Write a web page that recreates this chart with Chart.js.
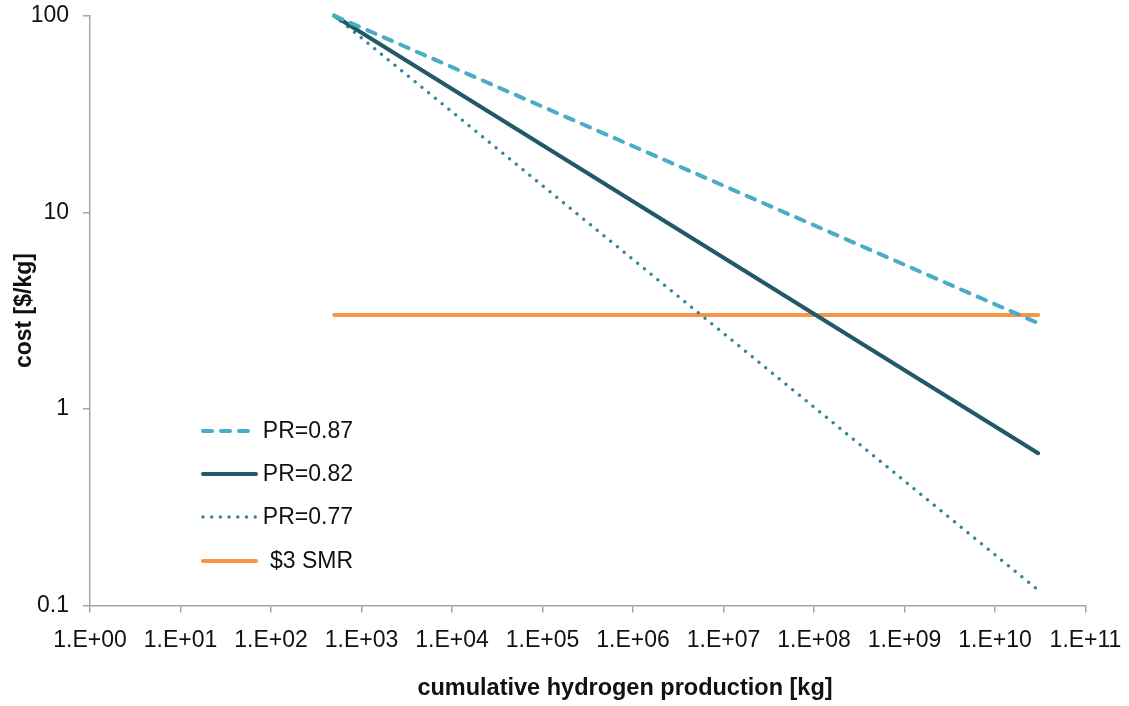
<!DOCTYPE html>
<html>
<head>
<meta charset="utf-8">
<script src="https://cdn.jsdelivr.net/npm/chart.js@4.4.1/dist/chart.umd.min.js"></script>
<style>
  html, body { margin: 0; padding: 0; background: #ffffff; }
  #wrap { width: 1129px; height: 706px; }
</style>
</head>
<body>
<div id="wrap"><canvas id="c" width="1129" height="706"></canvas></div>
<script>
// ---- data ----
const productionKg = [500, 3e10];          // cumulative hydrogen production [kg]
const costPR087 = [100, 2.73];             // PR=0.87
const costPR082 = [100, 0.595];            // PR=0.82
const costPR077 = [100, 0.12];             // PR=0.77
const costSMR   = [3, 3];                  // $3 SMR

const seriesLabels = ['PR=0.87', 'PR=0.82', 'PR=0.77', '$3 SMR'];

const xTickValues = [1, 1e1, 1e2, 1e3, 1e4, 1e5, 1e6, 1e7, 1e8, 1e9, 1e10, 1e11];
const xTickLabels = ['1.E+00', '1.E+01', '1.E+02', '1.E+03', '1.E+04', '1.E+05',
                     '1.E+06', '1.E+07', '1.E+08', '1.E+09', '1.E+10', '1.E+11'];
const yTickValues = [0.1, 1, 10, 100];
const yTickLabels = ['0.1', '1', '10', '100'];

const xTitle = 'cumulative hydrogen production [kg]';
const yTitle = 'cost [$/kg]';

function pts(ys) { return productionKg.map((x, i) => ({ x: x, y: ys[i] })); }

const FONT = "'Liberation Sans', Arial, sans-serif";
const AXIS_GRAY = '#a6a6a6';
const TEXT = '#111111';

// legend inside the plot area + x-axis title (offset like the reference)
const decorPlugin = {
  id: 'decor',
  afterDraw(chart) {
    const ctx = chart.ctx;
    const sx0 = 203, sx1 = 256, textRight = 353;
    const ys = [431, 474, 517, 561];
    ctx.save();
    chart.data.datasets.forEach((ds, i) => {
      const y = ys[i];
      ctx.beginPath();
      ctx.setLineDash(ds.borderDash || []);
      ctx.lineCap = ds.borderCapStyle || 'butt';
      ctx.lineWidth = ds.borderWidth;
      ctx.strokeStyle = ds.borderColor;
      ctx.moveTo(sx0, y);
      ctx.lineTo(sx1, y);
      ctx.stroke();
      ctx.setLineDash([]);
      ctx.fillStyle = TEXT;
      ctx.font = '23px ' + FONT;
      ctx.textAlign = 'right';
      ctx.textBaseline = 'middle';
      ctx.fillText(ds.label, textRight, y + 1);
    });
    ctx.font = 'bold 23.5px ' + FONT;
    ctx.textAlign = 'center';
    ctx.textBaseline = 'middle';
    ctx.fillStyle = TEXT;
    ctx.fillText(xTitle, 625, 689);
    ctx.restore();
  }
};

new Chart(document.getElementById('c'), {
  type: 'line',
  data: {
    datasets: [
      { label: seriesLabels[0], data: pts(costPR087), borderColor: '#4bacc6',
        borderWidth: 4, borderDash: [9, 9], borderCapStyle: 'round' },
      { label: seriesLabels[1], data: pts(costPR082), borderColor: '#215968',
        borderWidth: 4, borderCapStyle: 'round' },
      { label: seriesLabels[2], data: pts(costPR077), borderColor: '#31859c',
        borderWidth: 3.5, borderDash: [0, 8.7], borderCapStyle: 'round' },
      { label: seriesLabels[3], data: pts(costSMR), borderColor: '#f79646',
        borderWidth: 4, borderCapStyle: 'round' }
    ].map(d => Object.assign(d, { pointRadius: 0, fill: false, tension: 0, clip: false }))
  },
  options: {
    responsive: false,
    animation: false,
    events: [],
    layout: { padding: { top: 15.7, right: 43.5, left: 0, bottom: 0 } },
    plugins: { legend: { display: false }, tooltip: { enabled: false } },
    scales: {
      x: {
        type: 'logarithmic',
        min: xTickValues[0],
        max: xTickValues[xTickValues.length - 1],
        afterBuildTicks: s => { s.ticks = xTickValues.map(v => ({ value: v })); },
        afterFit: s => { s.height = 100.5; s.paddingLeft = 0; s.paddingRight = 0; },
        ticks: {
          autoSkip: false, maxRotation: 0, padding: 14,
          color: TEXT, font: { family: FONT, size: 23 },
          callback: (v, i) => xTickLabels[i]
        },
        grid: { drawOnChartArea: false, drawTicks: true, tickLength: 7, color: AXIS_GRAY, lineWidth: 1.5 },
        border: { display: true, color: AXIS_GRAY, width: 1.5 },
        title: { display: false, text: xTitle }
      },
      y: {
        type: 'logarithmic',
        min: yTickValues[0],
        max: yTickValues[yTickValues.length - 1],
        afterBuildTicks: s => { s.ticks = yTickValues.map(v => ({ value: v })); },
        afterFit: s => { s.width = 90; s.paddingTop = 0; s.paddingBottom = 0; },
        ticks: {
          autoSkip: false, padding: 14,
          color: TEXT, font: { family: FONT, size: 23 },
          callback: (v, i) => yTickLabels[i]
        },
        grid: { drawOnChartArea: false, drawTicks: true, tickLength: 7, color: AXIS_GRAY, lineWidth: 1.5 },
        border: { display: true, color: AXIS_GRAY, width: 1.5 },
        title: { display: true, text: yTitle, color: TEXT,
                 font: { family: FONT, size: 23, weight: 'bold' }, padding: { top: 11, bottom: 0 } }
      }
    }
  },
  plugins: [decorPlugin]
});
</script>
</body>
</html>
